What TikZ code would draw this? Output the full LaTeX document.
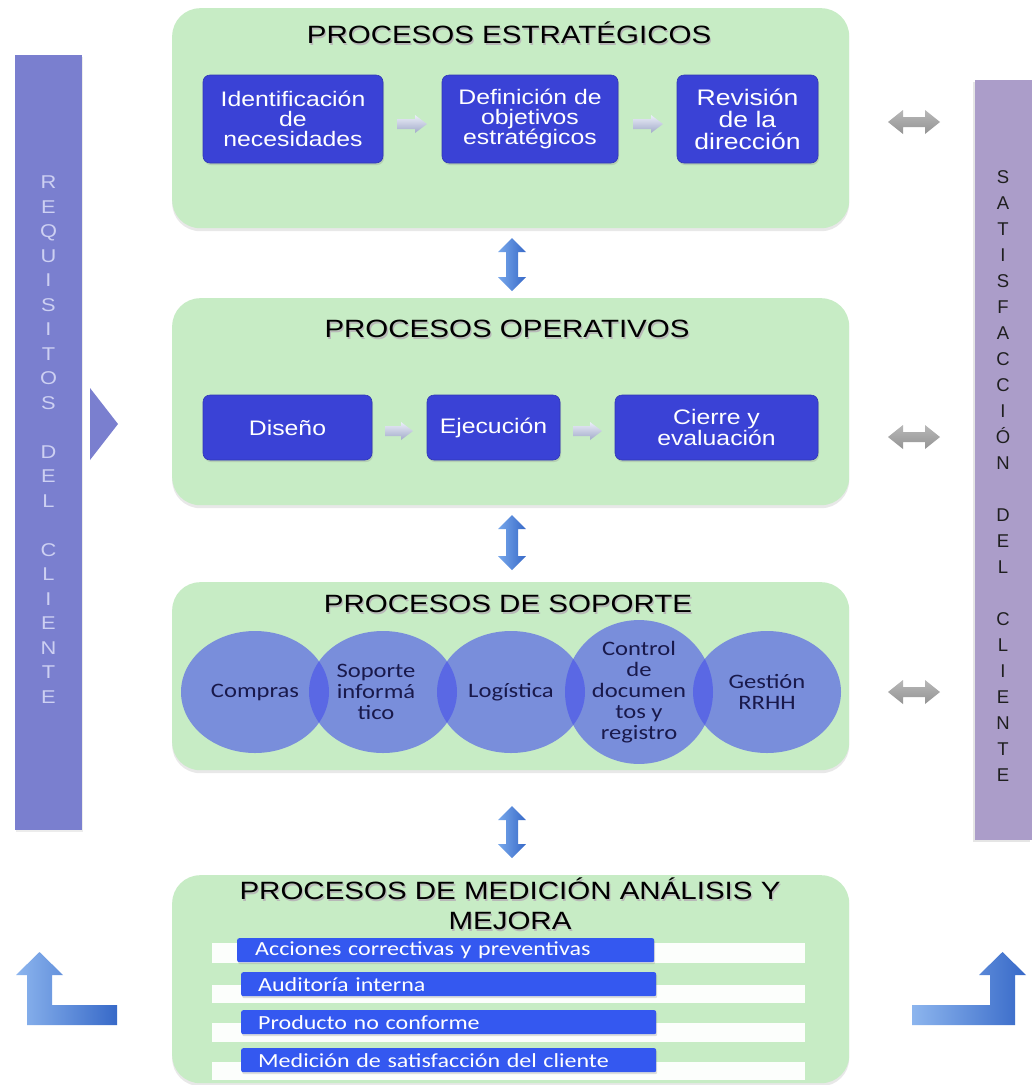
\documentclass[tikz,border=0pt]{standalone}
\usepackage{fontspec}
\setmainfont{Liberation Sans}
\newfontfamily\hfont[FakeStretch=1.18]{Liberation Sans}
\newfontfamily\cfont[FakeStretch=1.2]{Carlito}
\usetikzlibrary{shadows,shapes.geometric,calc}
\definecolor{gbox}{RGB}{199,236,197}
\definecolor{dblue}{RGB}{58,66,214}
\definecolor{lbar}{RGB}{122,127,207}
\definecolor{rbar}{RGB}{171,157,201}
\definecolor{ltxt}{RGB}{205,208,242}
\definecolor{bbar}{RGB}{52,88,240}
\definecolor{circ}{RGB}{70,80,235}
\definecolor{sarrc}{RGB}{190,200,236}
\definecolor{varrA}{RGB}{120,168,235}
\definecolor{varrB}{RGB}{55,105,200}
\definecolor{ctxt}{RGB}{25,25,75}
\newcommand\shd[1]{\leavevmode\rlap{\kern1.3pt\raisebox{-1.6pt}{\textcolor{black!28}{#1}}}#1}
\newcommand\hdarr[2]{\shade[top color=black!28, bottom color=black!42]
 ({#1-26},{#2}) -- ({#1-11},{#2-12}) -- ({#1-11},{#2-5}) -- ({#1+11},{#2-5}) -- ({#1+11},{#2-12}) -- ({#1+26},{#2}) -- ({#1+11},{#2+12}) -- ({#1+11},{#2+5}) -- ({#1-11},{#2+5}) -- ({#1-11},{#2+12}) -- cycle;}
\newcommand\vdarr[3]{\shade[left color=varrA, right color=varrB]
 ({#1},{#2}) -- ({#1+14},{#2+14}) -- ({#1+6},{#2+14}) -- ({#1+6},{#3-14}) -- ({#1+14},{#3-14}) -- ({#1},{#3}) -- ({#1-14},{#3-14}) -- ({#1-6},{#3-14}) -- ({#1-6},{#2+14}) -- ({#1-14},{#2+14}) -- cycle;}
\newcommand\sarr[3]{\shade[top color=white!70!sarrc, bottom color=sarrc!85!black]
 ({#1},{#3-5}) -- ({#2-12},{#3-5}) -- ({#2-12},{#3-9}) -- ({#2},{#3}) -- ({#2-12},{#3+9}) -- ({#2-12},{#3+5}) -- ({#1},{#3+5}) -- cycle;}
\begin{document}
\begin{tikzpicture}[x=1pt,y=-1pt,
 greenbox/.style={fill=gbox, rounded corners=28pt, minimum width=677pt, anchor=north west, inner sep=0pt,
   drop shadow={opacity=0.18, shadow xshift=0pt, shadow yshift=-3pt}},
 procbox/.style={fill=dblue, draw=dblue!85!black, line width=0.6pt, rounded corners=7pt, text=white, align=center,
   inner sep=0pt, font=\hfont\fontsize{21}{20}\selectfont,
   drop shadow={opacity=0.25, shadow xshift=1pt, shadow yshift=-2pt}},
 ttl/.style={font=\hfont\fontsize{25}{30}\selectfont, text=black, align=center, inner sep=0pt},
 circn/.style={ellipse, fill=circ, fill opacity=0.6, text opacity=1, text=ctxt, minimum width=148pt, minimum height=122pt,
   inner sep=0pt, align=center, font=\cfont\fontsize{20.5}{21}\selectfont},
 listbar/.style={fill=bbar, rounded corners=2pt, minimum height=24pt, inner ysep=0pt, text=white, align=left,
   font=\cfont\fontsize{20}{22}\selectfont, anchor=north west,
   drop shadow={opacity=0.25, shadow xshift=1pt, shadow yshift=-2pt}},
 stripe/.style={fill=white!94!gbox}
]
\useasboundingbox (0,0) rectangle (1034,1085);
\fill[white] (0,0) rectangle (1034,1085);

% side bars
\node[fill=lbar, minimum width=67pt, minimum height=775pt, anchor=north west, inner sep=0pt,
  drop shadow={opacity=0.15, shadow xshift=1pt, shadow yshift=-2pt}] (lb) at (15,55) {};
\node[fill=rbar, minimum width=57pt, minimum height=760pt, anchor=north west, inner sep=0pt,
  drop shadow={opacity=0.2, shadow xshift=-2pt, shadow yshift=-2pt}] (rb) at (975,80) {};
\node[font=\hfont\fontsize{18.5}{24.5}\selectfont, text=ltxt, align=center, inner sep=0pt, anchor=north] (lt) at (48.5,176)
 {R\\E\\Q\\U\\I\\S\\I\\T\\O\\S\\~\\D\\E\\L\\~\\C\\L\\I\\E\\N\\T\\E};
\node[font=\fontsize{18.5}{26}\selectfont, text=black!88, align=center, inner sep=0pt, anchor=north] (rt) at (1003,170)
 {S\\A\\T\\I\\S\\F\\A\\C\\C\\I\\Ó\\N\\~\\D\\E\\L\\~\\C\\L\\I\\E\\N\\T\\E};
\fill[lbar] (90,388) -- (118,424) -- (90,460) -- cycle;

% green boxes
\node[greenbox, minimum height=220pt] (g1) at (172,8) {};
\node[greenbox, minimum height=207pt] (g2) at (172,298) {};
\node[greenbox, minimum height=188pt] (g3) at (172,582) {};
\node[greenbox, minimum height=208pt] (g4) at (172,875) {};

% titles
\node[ttl] (t1) at (509,34) {\shd{PROCESOS ESTRATÉGICOS}};
\node[ttl] (t2) at (507,330) {\shd{PROCESOS OPERATIVOS}};
\node[ttl] (t3) at (508,605) {\shd{PROCESOS DE SOPORTE}};
\node[ttl] (t4) at (510,905) {\shd{PROCESOS DE MEDICIÓN ANÁLISIS Y}\\\shd{MEJORA}};

% strategic row
\node[procbox, minimum width=180pt, minimum height=88pt] (p1) at (293,119) {Identificación\\de\\necesidades};
\node[procbox, minimum width=176pt, minimum height=88pt] (p2) at (530,119) {Definición de\\objetivos\\estratégicos};
\node[procbox, minimum width=141pt, minimum height=88pt, font=\hfont\fontsize{22.5}{22}\selectfont] (p3) at (747.5,119) {Revisión\\de la\\dirección};
\sarr{397}{427}{124}
\sarr{633}{663}{124}

% operative row
\node[procbox, minimum width=169pt, minimum height=65pt] (q1) at (287.5,427.5) {Diseño};
\node[procbox, minimum width=133pt, minimum height=65pt] (q2) at (493.5,427.5) {Ejecución};
\node[procbox, minimum width=203pt, minimum height=65pt, font=\hfont\fontsize{21}{19}\selectfont] (q3) at (716.5,427.5) {Cierre y\\evaluación};
\sarr{385}{413}{431}
\sarr{573}{602}{431}

% support circles
\node[circn] (c1) at (255,692) {Compras};
\node[circn] (c2) at (383,692) {\hspace*{-14pt}Soporte\\\hspace*{-14pt}informá\\\hspace*{-14pt}tico};
\node[circn] (c3) at (511,692) {Logística};
\node[circn] (c4) at (639,692) {Control\\de\\documen\\tos y\\registro};
\node[circn] (c5) at (767,692) {Gestión\\RRHH};

% measurement list
\fill[stripe] (212,943) rectangle (805,963);
\fill[stripe] (212,985) rectangle (805,1003);
\fill[stripe] (212,1023) rectangle (805,1042);
\fill[stripe] (212,1062) rectangle (805,1080);
\node[listbar, text width=381pt, inner xsep=18pt] (b1) at (237,938) {Acciones correctivas y preventivas};
\node[listbar, text width=381pt, inner xsep=17pt] (b2) at (241,972) {Auditoría interna};
\node[listbar, text width=381pt, inner xsep=17pt] (b3) at (241,1010) {Producto no conforme};
\node[listbar, text width=381pt, inner xsep=17pt] (b4) at (241,1048) {Medición de satisfacción del cliente};

% vertical double arrows
\vdarr{512}{238}{291}
\vdarr{512}{515}{570}
\vdarr{512}{806}{858}

% grey double arrows
\hdarr{914}{122}
\hdarr{914}{437}
\hdarr{914}{692}

% L arrows
\shade[left color=varrA!85!white, right color=varrB]
 (39.5,952) -- (63,975) -- (52,975) -- (52,1005) -- (117,1005) -- (117,1025) -- (27,1025) -- (27,975) -- (16,975) -- cycle;
\shade[left color=varrA!85!white, right color=varrB]
 (1002.5,952) -- (1026,975) -- (1015,975) -- (1015,1025) -- (912,1025) -- (912,1005) -- (990,1005) -- (990,975) -- (979,975) -- cycle;
\end{tikzpicture}
\end{document}
